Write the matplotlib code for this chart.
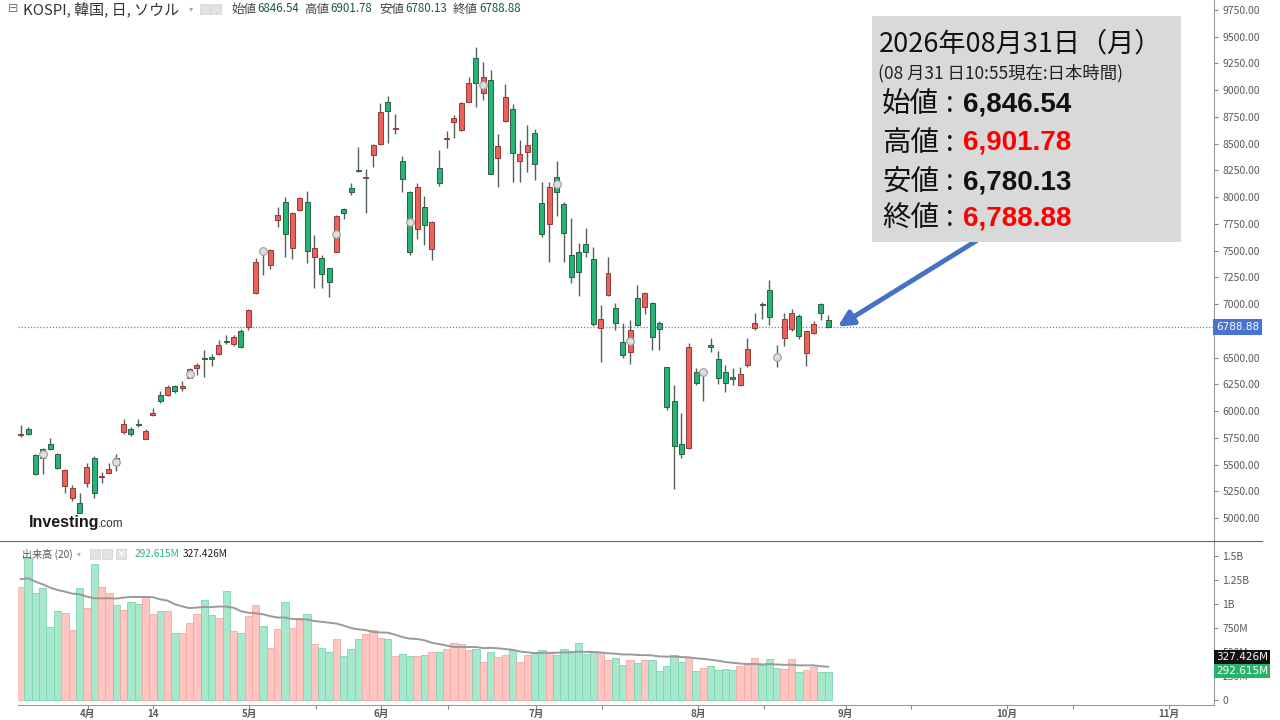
import numpy as np
import pandas as pd
import matplotlib
matplotlib.use('Agg')
import matplotlib.pyplot as plt
from matplotlib.patches import Rectangle

plt.rcParams['font.family'] = ['Noto Sans CJK JP', 'DejaVu Sans']

# daily OHLC, oldest first
opens = [5772, 5829, 5589, 5642, 5689, 5598, 5302, 5190, 5143, 5330,
         5558, 5380, 5424, 5558, 5801, 5832, 5879, 5739, 5966, 6147,
         6147, 6234, 6218, 6312, 6399, 6489, 6508, 6533, 6652, 6624,
         6751, 6788, 7101, 7503, 7365, 7786, 7957, 7521, 7879, 7957,
         7443, 7434, 7334, 7490, 7886, 8082, 8253, 8179, 8394, 8494,
         8892, 8637, 8338, 8051, 7699, 7910, 7512, 8275, 8540, 8705,
         8627, 8892, 9298, 8971, 9095, 8363, 8712, 8824, 8340, 8425,
         8597, 7942, 7746, 8191, 7933, 7459, 7490, 7559, 7419, 6773,
         7085, 6966, 6648, 6555, 7060, 6975, 7013, 6820, 6409, 6094,
         5689, 5657, 6362, 6356, 6611, 6484, 6368, 6309, 6243, 6430,
         6773, 7004, 7132, 6508, 6686, 6764, 6888, 6545, 6732, 7001,
         6846.54]
highs = [5869, 5854, 5595, 5652, 5751, 5605, 5456, 5306, 5237, 5517,
         5580, 5433, 5511, 5598, 5923, 5854, 5926, 5829, 6026, 6187,
         6243, 6243, 6284, 6405, 6446, 6571, 6533, 6664, 6711, 6711,
         6765, 6951, 7428, 7536, 7512, 7910, 8004, 7864, 7998, 8060,
         7646, 7459, 7340, 7833, 7895, 8135, 8471, 8260, 8493, 8883,
         8945, 8774, 8384, 8055, 8129, 8010, 7776, 8440, 8621, 8768,
         8892, 9120, 9400, 9266, 9188, 8587, 9055, 8870, 8534, 8674,
         8634, 8144, 8144, 8338, 7957, 7802, 7568, 7714, 7536, 6991,
         7437, 7007, 6820, 6851, 7178, 7116, 7016, 6839, 6415, 6243,
         5979, 6639, 6400, 6390, 6680, 6561, 6430, 6400, 6409, 6680,
         6914, 7022, 7225, 6617, 6914, 6951, 6904, 6751, 6845, 7007,
         6901.78]
lows = [5754, 5773, 5400, 5408, 5640, 5458, 5231, 5162, 5044, 5293,
        5184, 5324, 5418, 5439, 5785, 5767, 5854, 5736, 5954, 6078,
        6140, 6171, 6190, 6305, 6337, 6321, 6421, 6524, 6627, 6608,
        6592, 6758, 7095, 7272, 7328, 7723, 7443, 7419, 7870, 7387,
        7147, 7147, 7069, 7484, 7792, 8020, 8235, 7849, 8284, 8487,
        8509, 8587, 8051, 7459, 7606, 7552, 7412, 8104, 8456, 8550,
        8621, 8886, 8845, 8908, 8213, 8097, 8705, 8138, 8144, 8232,
        8160, 7624, 7396, 7823, 7396, 7194, 7076, 7443, 6795, 6461,
        7076, 6758, 6493, 6440, 6795, 6907, 6571, 6571, 6010, 5268,
        5564, 5642, 6243, 6094, 6549, 6253, 6175, 6243, 6234, 6415,
        6755, 6858, 6804, 6415, 6608, 6751, 6671, 6421, 6720, 6851,
        6780.13]
closes = [5780, 5782, 5408, 5564, 5645, 5465, 5449, 5283, 5050, 5480,
          5231, 5393, 5455, 5496, 5876, 5782, 5867, 5816, 5972, 6094,
          6228, 6190, 6225, 6390, 6430, 6484, 6484, 6617, 6643, 6695,
          6602, 6945, 7396, 7490, 7506, 7833, 7652, 7854, 7989, 7499,
          7521, 7281, 7209, 7823, 7849, 8051, 8241, 8191, 8487, 8793,
          8808, 8649, 8166, 7490, 8097, 7739, 7770, 8129, 8553, 8737,
          8877, 9070, 9064, 9126, 8216, 8478, 8939, 8415, 8403, 8487,
          8310, 7655, 8097, 8051, 7662, 7250, 7297, 7484, 6811, 6860,
          7293, 6826, 6524, 6758, 6804, 7101, 6689, 6764, 6035, 5673,
          5595, 6602, 6265, 6368, 6602, 6306, 6265, 6303, 6346, 6580,
          6826, 6991, 6876, 6496, 6858, 6919, 6702, 6748, 6814, 6919,
          6788.88]
# volume in millions
volume = [1181, 1483, 1118, 1170, 764, 927, 903, 729, 1163, 962,
          1414, 1181, 1111, 990, 934, 1025, 1000, 1077, 893, 927,
          927, 695, 695, 799, 900, 1042, 882, 851, 1136, 722,
          692, 875, 990, 771, 538, 740, 1018, 754, 851, 893,
          580, 545, 503, 629, 455, 528, 629, 684, 733, 646,
          636, 458, 479, 458, 458, 469, 497, 503, 531, 597,
          580, 517, 528, 396, 503, 441, 469, 521, 389, 462,
          483, 517, 483, 462, 528, 510, 597, 476, 500, 503,
          413, 434, 361, 410, 385, 413, 413, 295, 354, 469,
          396, 441, 295, 330, 354, 306, 320, 313, 354, 379,
          438, 358, 420, 327, 316, 424, 285, 306, 344, 285,
          292.615]
# first 19 points of the 20-day volume average (earlier data is off-chart)
vol_ma_head = [1258, 1268, 1233, 1205, 1170, 1146, 1129, 1108, 1101, 1077,
               1059, 1059, 1059, 1056, 1066, 1073, 1073, 1073, 1070]
marker_idx = [3, 13, 23, 33, 43, 53, 63, 73, 83, 93, 103]

month_ticks = [9.15, 18.0, 31.1, 40.2, 49.1, 58.2, 70.2, 79.2, 92.3, 101.3,
               112.4, 121.3, 134.4, 143.4, 156.4]
month_labels = ['4月', '14', '5月', '', '6月', '', '7月', '', '8月', '',
                '9月', '', '10月', '', '11月']
price_ticks = list(range(5000, 9751, 250))
vol_ticks = [0, 250, 500, 750, 1000, 1250, 1500]
vol_tick_labels = ['0', '250M', '500M', '750M', '1B', '1.25B', '1.5B']

o = np.array(opens, dtype=float)
h = np.array(highs, dtype=float)
l = np.array(lows, dtype=float)
c = np.array(closes, dtype=float)
v = np.array(volume, dtype=float)
x = np.arange(len(o))
up = c >= o

ma = pd.Series(v).rolling(20).mean().to_numpy()
ma[:19] = vol_ma_head

W, H = 1280, 720
def fx(px):
    return px / W
def fy(py):
    return 1 - py / H

fig = plt.figure(figsize=(12.8, 7.2), dpi=100)
fig.patch.set_facecolor('white')

ax = fig.add_axes([fx(18), fy(541), (1214 - 18) / W, 541 / H])
axv = fig.add_axes([fx(18), fy(705), (1214 - 18) / W, (705 - 541) / H])

RED, RED_E = '#f0605a', '#8c3d38'
GRN, GRN_E = '#22b573', '#2f5e47'
WICK = '#55605b'

# candles
ax.vlines(x, l, h, color=WICK, lw=1.0, zorder=2)
body_lo = np.minimum(o, c)
body_h = np.maximum(np.abs(c - o), 12)
ax.bar(x, body_h, bottom=body_lo, width=0.68,
       color=np.where(up, RED, GRN), edgecolor=np.where(up, RED_E, GRN_E),
       linewidth=0.7, zorder=3)
mid = (o + c) / 2
ax.plot(x[marker_idx], mid[marker_idx], 'o', ms=5.5, mfc='#dedede', mec='#9c9c9c',
        mew=0.8, zorder=4)

last = c[-1]
ax.axhline(last, color='#5b86d6', lw=0.9, ls=(0, (1, 1.5)), zorder=1)

ax.set_xlim(-0.38, 162.56)
ax.set_ylim(4785, 9843)
ax.yaxis.tick_right()
ax.set_yticks(price_ticks)
ax.set_yticklabels(['%.2f' % t for t in price_ticks])
ax.tick_params(axis='y', labelsize=7.5, labelcolor='#5a5a5a', color='#888888',
               length=3, pad=3)
ax.set_xticks([])
for s in ['top', 'left', 'bottom']:
    ax.spines[s].set_visible(False)
ax.spines['right'].set_color('#9a9a9a')

ax.text(1.0015, last, '6788.88', transform=ax.get_yaxis_transform(),
        fontsize=7.5, color='white', va='center', ha='left', family='DejaVu Sans',
        bbox=dict(boxstyle='square,pad=0.3', fc='#4a72d3', ec='none'), zorder=10,
        clip_on=False)

# volume
axv.bar(x, v, width=1.0, color=np.where(up, '#ffc6c1', '#a5e8cc'),
        edgecolor=np.where(up, '#f3aaa4', '#80d3b0'), linewidth=0.6, zorder=2)
axv.plot(x, ma, color='#9a9a9a', lw=1.4, zorder=3)
axv.set_xlim(-0.38, 162.56)
axv.set_ylim(-55, 1657)
axv.yaxis.tick_right()
axv.set_yticks(vol_ticks)
axv.set_yticklabels(vol_tick_labels)
axv.tick_params(axis='y', labelsize=7.5, labelcolor='#5a5a5a', color='#888888',
                length=3, pad=3)
axv.set_xticks(month_ticks)
axv.set_xticklabels(month_labels, fontweight='bold', family=['Noto Sans CJK JP'])
axv.tick_params(axis='x', labelsize=7, labelcolor='#5a5a5a', color='#888888',
                length=3, pad=0)
for s in ['top', 'left']:
    axv.spines[s].set_visible(False)
axv.spines['right'].set_color('#9a9a9a')
axv.spines['bottom'].set_color('#9a9a9a')

axv.text(1.0015, 448, '327.426M', transform=axv.get_yaxis_transform(),
         fontsize=7.5, color='white', va='center', ha='left', family='DejaVu Sans',
         bbox=dict(boxstyle='square,pad=0.2', fc='#111111', ec='none'), zorder=10,
         clip_on=False)
axv.text(1.0015, 302, '292.615M', transform=axv.get_yaxis_transform(),
         fontsize=7.5, color='white', va='center', ha='left', family='DejaVu Sans',
         bbox=dict(boxstyle='square,pad=0.2', fc='#26b36b', ec='none'), zorder=10,
         clip_on=False)

# separator between panels
fig.add_artist(plt.Line2D([0, fx(1262)], [fy(541), fy(541)], color='#666666', lw=0.8))

# header line
hdr = 9
fig.text(fx(8), fy(hdr), '⊟', fontsize=9, color='#777777', va='center',
         family=['DejaVu Sans'])
fig.text(fx(23), fy(hdr), 'KOSPI, 韓国, 日, ソウル', fontsize=10.8, color='#333333', va='center')
fig.text(fx(189), fy(hdr), '▾', fontsize=6, color='#aaaaaa', va='center',
         family=['DejaVu Sans'])
for bx in (200, 211):
    fig.add_artist(Rectangle((fx(bx), fy(14)), 10 / W, 10 / H, fc='#e2e2e2', ec='#cfcfcf', lw=0.5))
hdr_items = [(231, '始値', 257, '6846.54'), (304, '高値', 330, '6901.78'),
             (379, '安値', 405, '6780.13'), (453, '終値', 479, '6788.88')]
for lx, lab, vx, val in hdr_items:
    fig.text(fx(lx), fy(hdr), lab, fontsize=9, color='#444444', va='center')
    fig.text(fx(vx), fy(hdr), val, fontsize=8.3, color='#1d5a3c', va='center')

# volume legend
vl = 554
fig.text(fx(22), fy(vl), '出来高 (20)', fontsize=7.3, color='#555555', va='center')
fig.text(fx(77), fy(vl), '▾', fontsize=5.5, color='#aaaaaa', va='center',
         family=['DejaVu Sans'])
for bx in (90, 102, 116):
    fig.add_artist(Rectangle((fx(bx), fy(559)), 10 / W, 10 / H, fc='#e2e2e2', ec='#cfcfcf', lw=0.5))
fig.text(fx(121), fy(vl), '×', fontsize=8, color='white', va='center', ha='center',
         family=['DejaVu Sans'])
fig.text(fx(135), fy(vl), '292.615M', fontsize=7.3, color='#2bb37a', va='center')
fig.text(fx(183), fy(vl), '327.426M', fontsize=7.3, color='#222222', va='center')

# logo
fig.text(fx(29), fy(522), 'Investing', fontsize=11.5, fontweight='bold', color='#1a1a1a',
         va='center', family=['Liberation Sans'])
fig.text(fx(98), fy(524), '.com', fontsize=8.5, color='#333333', va='center',
         family=['Liberation Sans'])

# info box
fig.add_artist(Rectangle((fx(872), fy(242)), (1181 - 872) / W, (242 - 16) / H,
                         fc='#d9d9d9', ec='none', zorder=5))
fig.text(fx(879), fy(44), '2026年08月31日（月）', fontsize=19.5, color='#111111',
         va='center', zorder=6)
fig.text(fx(878), fy(73), '(08 月31 日10:55現在:日本時間)', fontsize=12.5, color='#222222',
         va='center', zorder=6)
rows = [('始値', '6,846.54', '#111111', 104), ('高値', '6,901.78', '#ff0000', 143),
        ('安値', '6,780.13', '#111111', 182), ('終値', '6,788.88', '#ff0000', 218)]
for lab, val, col, yy in rows:
    fig.text(fx(882), fy(yy), lab, fontsize=20.5, color='#111111', va='center', zorder=6)
    fig.text(fx(946), fy(yy), ':', fontsize=20, color='#111111', va='center', zorder=6)
    fig.text(fx(963), fy(yy), val, fontsize=20, color=col, va='center', fontweight='bold',
             family=['Liberation Sans'], zorder=6)

# arrow to the last candle
ax.annotate('', xy=(len(c) - 1 + 1.3, last), xycoords='data',
            xytext=(fx(976), fy(241)), textcoords='figure fraction',
            arrowprops=dict(arrowstyle='-|>,head_length=0.9,head_width=0.45',
                            color='#4472c4', lw=3.5, shrinkA=0, shrinkB=0),
            annotation_clip=False, zorder=7)

fig.savefig('out.png', dpi=100)
